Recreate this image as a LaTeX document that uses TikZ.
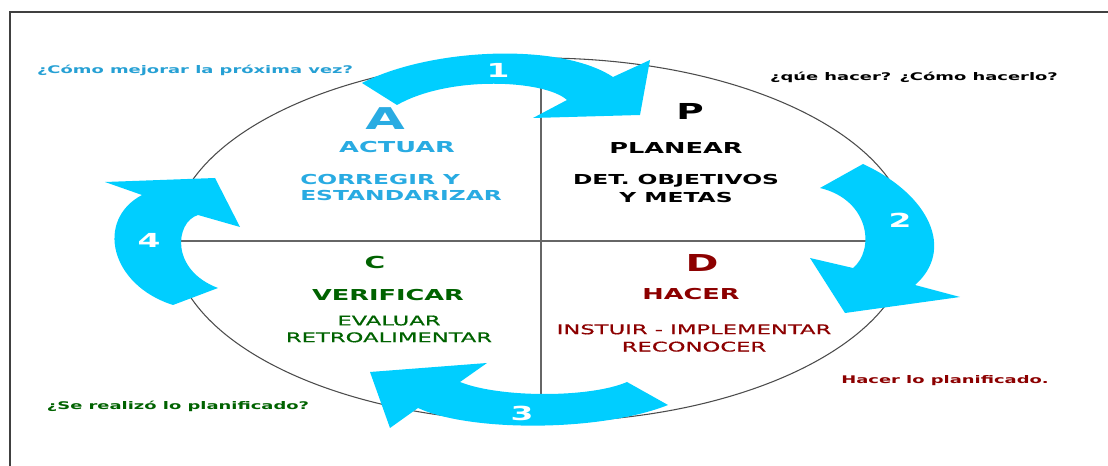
\documentclass[tikz,border=0pt]{standalone}
\usepackage{fontspec}
\newfontfamily\widefont[FakeStretch=1.7]{DejaVu Sans}
\newfontfamily\widemedium[FakeStretch=1.7, FakeBold=0.6]{DejaVu Sans}
\definecolor{cyclecyan}{RGB}{0,206,255}
\definecolor{actblue}{RGB}{41,171,226}
\definecolor{askblue}{RGB}{38,160,212}
\definecolor{verigreen}{RGB}{0,98,0}
\definecolor{dored}{RGB}{140,0,0}
\definecolor{framegray}{RGB}{64,64,64}
\tikzset{
        cyclearrow/.style={fill=cyclecyan, draw=none},
        ringline/.style={draw=black!70, line width=0.8pt},
        crossline/.style={draw=black!60, line width=1.1pt},
        num/.style={inner sep=0, text=white, font=\widefont\bfseries\fontsize{14.5}{15}\selectfont},
        letter/.style={inner sep=0, font=\widefont\bfseries\fontsize{#1}{#1}\selectfont},
        letter/.default=16,
        title/.style={inner sep=0, font=\widefont\bfseries\fontsize{11.3}{13}\selectfont},
        detail/.style={inner sep=0, align=center, font=\widefont\bfseries\fontsize{10.3}{12}\selectfont},
        note/.style={inner sep=0, align=center, font=\widemedium\fontsize{10}{12.6}\selectfont},
        question/.style={inner sep=0, anchor=base, font=\widefont\bfseries\fontsize{7.9}{9}\selectfont},
    }
\begin{document}
\begin{tikzpicture}[x=0.75pt, y=-0.75pt]
        \useasboundingbox (0,0) rectangle (1108,466);
        % frame
        \draw[framegray, line width=1.3pt] (10,466) -- (10,12) -- (1108,12);

        % circle and quadrants
        \draw[ringline] (541,240) ellipse [x radius=369, y radius=182];
        \draw[crossline] (172,241) -- (910,241);
        \draw[crossline] (541,58) -- (541,422);

        % cycle arrows
        \fill[cyclearrow] (362,83) .. controls (430,48) and (560,42) .. (613,77) -- (650,60) -- (640,115)
            -- (533,118) -- (567,100) .. controls (545,80) and (450,75) .. (397,105) -- cycle;
        \fill[cyclearrow] (863,164) .. controls (930,195) and (955,250) .. (915,285) -- (960,297) -- (845,313)
            -- (810,258) -- (853,268) .. controls (875,250) and (870,200) .. (820,188) -- cycle;
        \fill[cyclearrow] (668,405) .. controls (600,432) and (470,432) .. (418,408) -- (390,428) -- (370,372)
            -- (487,363) -- (460,382) .. controls (500,398) and (590,398) .. (627,382) -- cycle;
        \fill[cyclearrow] (173,305) .. controls (110,285) and (95,220) .. (142,195) -- (105,182) -- (215,178)
            -- (240,227) -- (198,215) .. controls (175,222) and (170,270) .. (218,288) -- cycle;
        \node[num] (n1) at (498,70) {1};
        \node[num] (n2) at (900,220) {2};
        \node[num] (n3) at (522,413) {3};
        \node[num] (n4) at (149,240) {4};

        % A - actuar
        \node[letter=22.5, text=actblue] (a-letter) at (385,119) {A};
        \node[title, text=actblue] (a-title) at (397,147) {ACTUAR};
        \node[detail, text=actblue, align=left, anchor=west] (a-text) at (300,188) {CORREGIR Y\\ESTANDARIZAR};

        % P - planear
        \node[letter=16.5] (p-letter) at (690,111) {P};
        \node[title] (p-title) at (676,148) {PLANEAR};
        \node[detail, font=\widefont\bfseries\fontsize{10.3}{13.5}\selectfont] (p-text) at (676,189) {DET. OBJETIVOS\\Y METAS};

        % C - verificar
        \node[letter=12.4, text=verigreen] (c-letter) at (375,262) {C};
        \node[title, text=verigreen] (c-title) at (388,295) {VERIFICAR};
        \node[note, text=verigreen] (c-text) at (389,329) {EVALUAR\\RETROALIMENTAR};

        % D - hacer
        \node[letter=17.5, text=dored] (d-letter) at (702,263) {D};
        \node[title, text=dored] (d-title) at (691,294) {HACER};
        \node[note, text=dored, font=\widemedium\fontsize{10}{13}\selectfont] (d-text) at (694,338) {INSTUIR - IMPLEMENTAR\\RECONOCER};

        % questions
        \node[question, text=askblue] (a-ask) at (195,74) {¿Cómo mejorar la próxima vez?};
        \node[question] (p-ask) at (914,81) {¿qúe hacer? ¿Cómo hacerlo?};
        \node[question, text=verigreen] (c-ask) at (178,410) {¿Se realizó lo planificado?};
        \node[question, text=dored] (d-ask) at (945,384) {Hacer lo planificado.};
    \end{tikzpicture}
\end{document}
